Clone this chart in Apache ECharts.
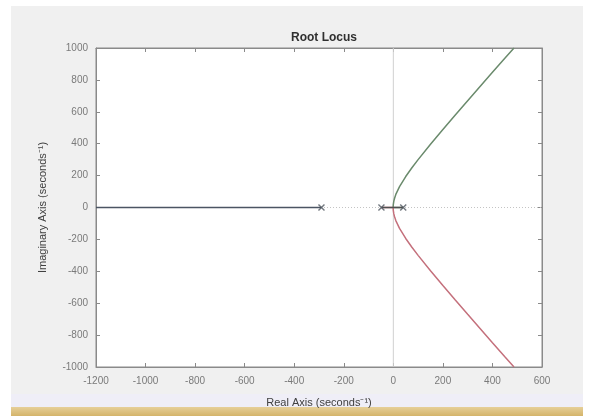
<!DOCTYPE html>
<html><head><meta charset="utf-8">
<script src="https://cdn.jsdelivr.net/npm/echarts@6/dist/echarts.min.js"></script>
<style>html,body{margin:0;padding:0;background:#fff}#c{width:594px;height:416px}</style>
</head><body><div id="c"></div>
<script>
// Tick settings
const xTicks = {min: -1200, max: 600, interval: 200};
const yTicks = {min: -1000, max: 1000, interval: 200};
// Open-loop poles (real parts)
const poleRe = [-290, -48, 40];
const poleIm = [0, 0, 0];
// Branch 1: along the negative real axis
const b1Re = [-290, -1200];
const b1Im = [0, 0];
// Branch 2 (upper, green)
const b2Re = [40, -1, 0, 2, 5, 10, 25, 50, 75, 100, 150, 200, 250, 300, 350, 400, 450, 487];
const b2Im = [0, 0, 20, 40, 58, 82, 131, 194, 249, 300, 397, 489, 580, 670, 759, 848, 936, 1000];
// Branch 3 (lower, red)
const b3Re = [-48, -1, 0, 2, 5, 10, 25, 50, 75, 100, 150, 200, 250, 300, 350, 400, 450, 487];
const b3Im = [0, 0, -20, -40, -58, -82, -131, -194, -249, -300, -397, -489, -580, -670, -759, -848, -936, -1000];

const zip = (a, b) => a.map((v, i) => [v, b[i]]);
const chart = echarts.init(document.getElementById('c'));
const axisCol = '#8a8a8a';
const labelCol = '#7a7a7a';
const font = 'Liberation Sans, Arial, sans-serif';
const plain = v => String(v);
chart.setOption({
  backgroundColor: '#ffffff',
  animation: false,
  graphic: [
    {type: 'rect', z: -10, shape: {x: 11, y: 6, width: 572, height: 390}, style: {fill: '#f0f0f0'}},
    {type: 'rect', z: -10, shape: {x: 11, y: 394, width: 572, height: 14}, style: {fill: '#efeef7'}},
    {type: 'rect', z: -10, shape: {x: 11, y: 407, width: 572, height: 9},
      style: {fill: new echarts.graphic.LinearGradient(0, 0, 0, 1, [{offset: 0, color: '#e6cf98'}, {offset: 1, color: '#d4b46a'}])}}
  ],
  title: {text: 'Root Locus', left: 319, top: 27, textAlign: 'center',
    textStyle: {fontFamily: font, fontSize: 12, fontWeight: 'bold', color: '#303030'}},
  grid: {left: 96, right: 52, top: 48, bottom: 49, show: true, backgroundColor: '#ffffff', borderColor: axisCol, borderWidth: 1},
  xAxis: [
    {type: 'value', min: xTicks.min, max: xTicks.max, interval: xTicks.interval, position: 'bottom',
     name: 'Real Axis (seconds⁻¹)', nameLocation: 'middle', nameGap: 30,
     nameTextStyle: {fontFamily: font, fontSize: 11, color: '#404040'},
     axisLine: {show: true, onZero: false, lineStyle: {color: axisCol}},
     axisTick: {show: true, inside: true, length: 4, lineStyle: {color: axisCol}},
     axisLabel: {fontFamily: font, fontSize: 10, color: labelCol, margin: 9, formatter: plain},
     splitLine: {show: false}},
    {type: 'value', min: xTicks.min, max: xTicks.max, interval: xTicks.interval, position: 'top',
     axisLine: {show: true, onZero: false, lineStyle: {color: axisCol}},
     axisTick: {show: true, inside: true, length: 4, lineStyle: {color: axisCol}},
     axisLabel: {show: false}, splitLine: {show: false}}
  ],
  yAxis: [
    {type: 'value', min: yTicks.min, max: yTicks.max, interval: yTicks.interval, position: 'left',
     name: 'Imaginary Axis (seconds⁻¹)', nameLocation: 'middle', nameGap: 48, nameRotate: 90,
     nameTextStyle: {fontFamily: font, fontSize: 11, color: '#404040'},
     axisLine: {show: true, onZero: false, lineStyle: {color: axisCol}},
     axisTick: {show: true, inside: true, length: 4, lineStyle: {color: axisCol}},
     axisLabel: {fontFamily: font, fontSize: 10, color: labelCol, margin: 8, formatter: plain},
     splitLine: {show: false}},
    {type: 'value', min: yTicks.min, max: yTicks.max, interval: yTicks.interval, position: 'right',
     axisLine: {show: true, onZero: false, lineStyle: {color: axisCol}},
     axisTick: {show: true, inside: true, length: 4, lineStyle: {color: axisCol}},
     axisLabel: {show: false}, splitLine: {show: false}}
  ],
  series: [
    {type: 'line', data: [[xTicks.min, 0], [xTicks.max, 0]], symbol: 'none', silent: true,
     lineStyle: {color: '#c4c4c4', width: 1, type: [1, 2]}, z: 1},
    {type: 'line', data: [[0, yTicks.min], [0, yTicks.max]], symbol: 'none', silent: true,
     lineStyle: {color: '#d0d0d0', width: 1}, z: 1},
    {type: 'line', data: zip(b1Re, b1Im), symbol: 'none', lineStyle: {color: '#4b5563', width: 1.5}, z: 3},
    {type: 'line', data: zip(b2Re, b2Im), symbol: 'none', lineStyle: {color: '#6a8a6c', width: 1.5}, z: 3},
    {type: 'line', data: zip(b3Re, b3Im), symbol: 'none', lineStyle: {color: '#c4707c', width: 1.5}, z: 3},
    {type: 'line', data: [[-48, 0], [40, 0]], symbol: 'none', lineStyle: {color: '#505050', width: 1.3}, z: 4},
    {type: 'scatter', data: zip(poleRe, poleIm), symbol: 'path://M0,0L10,10M10,0L0,10', symbolSize: 6,
     itemStyle: {color: 'none', borderColor: '#505860', borderWidth: 1.4}, z: 5}
  ]
});
</script></body></html>
